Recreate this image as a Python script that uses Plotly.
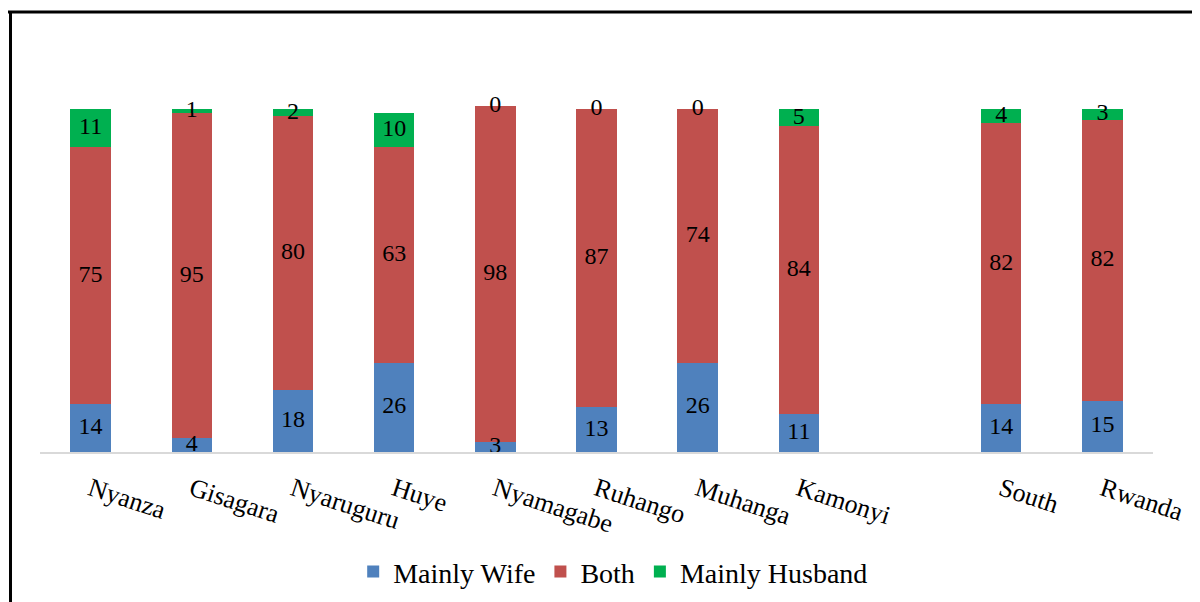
import numpy as np
import plotly.graph_objs as go

# districts, then an empty slot, then the totals
districts = ['Nyanza', 'Gisagara', 'Nyaruguru', 'Huye', 'Nyamagabe',
             'Ruhango', 'Muhanga', 'Kamonyi', ' ', 'South', 'Rwanda']
mainly_wife = [14, 4, 18, 26, 3, 13, 26, 11, None, 14, 15]
both = [75, 95, 80, 63, 98, 87, 74, 84, None, 82, 82]
mainly_husband = [11, 1, 2, 10, 0, 0, 0, 5, None, 4, 3]

serif = 'Liberation Serif'

series = [
    ('Mainly Wife', mainly_wife, '#4F81BD'),
    ('Both', both, '#C0504D'),
    ('Mainly Husband', mainly_husband, '#00B050'),
]

fig = go.Figure()
base = np.zeros(len(districts))
for name, vals, color in series:
    v = np.array([np.nan if x is None else x for x in vals], dtype=float)
    fig.add_trace(go.Bar(
        x=districts, y=v, name=name,
        marker={'color': color, 'line': {'width': 0}},
        width=0.4,
    ))
    # value labels centred on each segment
    fig.add_trace(go.Scatter(
        x=districts, y=base + v / 2, mode='text',
        text=['' if x is None else str(x) for x in vals],
        textfont={'family': serif, 'size': 24, 'color': 'black'},
        showlegend=False, hoverinfo='skip',
    ))
    base = base + np.nan_to_num(v)

# page body adds an 8px offset, margins account for it
fig.update_layout(
    barmode='stack',
    width=1200, height=602,
    margin={'l': 32, 'r': 55, 't': 67, 'b': 158, 'autoexpand': False},
    paper_bgcolor='white', plot_bgcolor='white',
    font={'family': serif, 'size': 26, 'color': 'black'},
    showlegend=True,
    legend={
        'orientation': 'h', 'x': 0.515, 'xanchor': 'center',
        'y': -0.318, 'yanchor': 'middle',
        'font': {'family': serif, 'size': 28},
        'traceorder': 'normal',
    },
    xaxis={
        'type': 'category',
        'range': [-0.5, len(districts) - 0.5],
        'automargin': False,
        'tickangle': 18,
        'showline': True, 'linecolor': '#D9D9D9', 'linewidth': 2,
        'ticks': '', 'showgrid': False,
        'tickfont': {'family': serif, 'size': 26},
        'ticklabelstandoff': 10,
    },
    yaxis={
        'range': [0, 110], 'visible': False, 'showgrid': False,
        'automargin': False,
    },
    shapes=[
        # outer chart frame (top and left edges visible)
        {'type': 'line', 'xref': 'paper', 'yref': 'paper',
         'x0': -0.032, 'x1': 1.06, 'y0': 1.167, 'y1': 1.167,
         'line': {'color': 'black', 'width': 3}},
        {'type': 'line', 'xref': 'paper', 'yref': 'paper',
         'x0': -0.0265, 'x1': -0.0265, 'y0': 1.167, 'y1': -0.45,
         'line': {'color': 'black', 'width': 3}},
    ],
)

fig.write_html("out.html")
